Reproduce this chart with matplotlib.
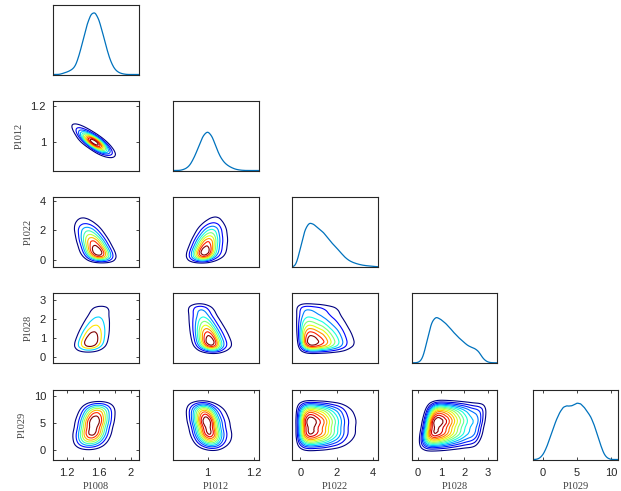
import matplotlib
matplotlib.use("Agg")
import matplotlib.pyplot as plt
import numpy as np

NAMES = ["P1008", "P1012", "P1022", "P1028", "P1029"]

# marginal densities (relative heights at grid points)
P1008_X = [1.15, 1.20, 1.25, 1.30, 1.35, 1.40, 1.45, 1.50, 1.55, 1.60, 1.65, 1.70, 1.75, 1.80, 1.85, 1.90]
P1008_W = [0.02, 0.04, 0.07, 0.12, 0.30, 0.55, 0.80, 0.97, 1.00, 0.88, 0.65, 0.40, 0.20, 0.08, 0.03, 0.01]

P1012_X = [0.90, 0.92, 0.94, 0.96, 0.98, 1.00, 1.02, 1.04, 1.06, 1.08, 1.10, 1.12, 1.14]
P1012_W = [0.03, 0.10, 0.30, 0.58, 0.88, 1.00, 0.86, 0.52, 0.28, 0.15, 0.08, 0.03, 0.01]

P1022_X = [-0.25, 0.0, 0.25, 0.5, 0.75, 1.0, 1.25, 1.5, 1.75, 2.0, 2.25, 2.5, 2.75, 3.0, 3.25, 3.5, 3.75, 4.0]
P1022_W = [0.0, 0.40, 0.85, 1.00, 0.95, 0.85, 0.78, 0.65, 0.52, 0.42, 0.30, 0.19, 0.12, 0.08, 0.05, 0.03, 0.02, 0.01]

P1028_X = [0.2, 0.4, 0.6, 0.8, 1.0, 1.2, 1.4, 1.6, 1.8, 2.0, 2.2, 2.4, 2.6, 2.8, 3.0]
P1028_W = [0.05, 0.45, 0.90, 1.00, 0.93, 0.85, 0.74, 0.62, 0.52, 0.43, 0.35, 0.32, 0.26, 0.08, 0.01]

P1029_X = [-0.5, 0.0, 0.5, 1.0, 1.5, 2.0, 2.5, 3.0, 3.5, 4.0, 4.5, 5.0, 5.5, 6.0, 6.5, 7.0, 7.5, 8.0, 8.5, 9.0, 9.5, 10.0]
P1029_W = [0.02, 0.08, 0.20, 0.37, 0.55, 0.71, 0.84, 0.93, 0.95, 0.94, 0.96, 1.00, 0.99, 0.93, 0.85, 0.76, 0.62, 0.43, 0.24, 0.08, 0.02, 0.0]

CENTERS = [P1008_X, P1012_X, P1022_X, P1028_X, P1029_X]
WEIGHTS = [P1008_W, P1012_W, P1022_W, P1028_W, P1029_W]
BANDWIDTH = [0.03, 0.012, 0.15, 0.12, 0.3]

# pairwise correlation and number of contour lines, keyed (row, col)
RHO = {(1, 0): -0.8, (2, 0): -0.5, (2, 1): 0.35, (3, 0): 0.35, (3, 1): -0.35,
       (3, 2): -0.1, (4, 0): 0.25, (4, 1): -0.25, (4, 2): 0.0, (4, 3): 0.15}
N_LEVELS = {(1, 0): 11, (2, 0): 8, (2, 1): 9, (3, 0): 4, (3, 1): 9,
            (3, 2): 9, (4, 0): 8, (4, 1): 11, (4, 2): 12, (4, 3): 14}

XLIM = [(1.02, 2.10), (0.85, 1.22), (-0.44, 4.25), (-0.25, 3.4), (-1.5, 11.04)]
YLIM = [None, (0.84, 1.23), (-0.47, 4.23), (-0.3, 3.35), (-1.7, 11.05)]
PEAK_FRAC = [0.886, 0.55, 0.625, 0.65, 0.81]

TICKS = [[1.2, 1.4, 1.6, 1.8, 2.0], [1.0, 1.2], [0, 2, 4], [0, 1, 2, 3], [0, 5, 10]]
TICKLABELS = [["1.2", "", "1.6", "", "2"], ["1", "1.2"], ["0", "2", "4"],
              ["0", "1", "2", "3"], ["0", "5", "10"]]


def kde(v, k):
    c = np.asarray(CENTERS[k])
    w = np.asarray(WEIGHTS[k])
    h = BANDWIDTH[k]
    d = (np.asarray(v)[..., None] - c) / h
    return (w * np.exp(-0.5 * d * d)).sum(-1) / (w.sum() * h * np.sqrt(2 * np.pi))


def moments(k):
    c = np.asarray(CENTERS[k])
    w = np.asarray(WEIGHTS[k])
    m = (w * c).sum() / w.sum()
    var = (w * (c - m) ** 2).sum() / w.sum() + BANDWIDTH[k] ** 2
    return m, np.sqrt(var)


def density2d(X, Y, i, j, r):
    # x variable i, y variable j, x sheared on y to give correlation r
    mx, sx = moments(i)
    my, sy = moments(j)
    a = r * sx / sy
    b = np.sqrt(1 - r * r)
    xp = mx + (X - mx - a * (Y - my)) / b
    return kde(xp, i) / b * kde(Y, j)


W, H = 621, 491
fig = plt.figure(figsize=(W / 100, H / 100), dpi=100)
lefts = [53, 173, 292.3, 411.7, 532.7]
tops = [5, 101, 197.3, 293.3, 390]
aw, ah = 85.5, 69.5

plt.rcParams["font.family"] = "Liberation Sans"
edge = "#262626"
line_blue = "#0072BD"

for row in range(5):
    for col in range(row + 1):
        ax = fig.add_axes([lefts[col] / W, 1 - (tops[row] + ah) / H, aw / W, ah / H])
        xs = np.linspace(*XLIM[col], 300)
        if row == col:
            d = kde(xs, col)
            ax.plot(xs, d, color=line_blue, lw=0.9)
            ax.set_ylim(0, d.max() / PEAK_FRAC[col])
        else:
            ys = np.linspace(*YLIM[row], 300)
            Xg, Yg = np.meshgrid(xs, ys)
            Z = density2d(Xg, Yg, col, row, RHO[(row, col)])
            n = N_LEVELS[(row, col)]
            levels = Z.max() * np.arange(1, n + 1) / (n + 1)
            ax.contour(Xg, Yg, Z, levels=levels, cmap="jet",
                       vmin=levels[0], vmax=levels[-1], linewidths=0.8)
            ax.set_ylim(*YLIM[row])
        ax.set_xlim(*XLIM[col])

        for s in ax.spines.values():
            s.set_color(edge)
            s.set_linewidth(0.8)
        ax.tick_params(direction="in", length=2.5, width=0.6, color=edge,
                       labelcolor=edge, labelsize=8, top=True, right=True)
        if row == 4:
            ax.set_xticks(TICKS[col])
            ax.set_xticklabels(TICKLABELS[col])
            ax.tick_params(axis="x", pad=6)
            ax.set_xlabel(NAMES[col], family="Liberation Serif", fontsize=7.5,
                          color="#404040", labelpad=3)
        else:
            ax.set_xticks([])
        if col == 0 and row > 0:
            ax.set_yticks(TICKS[row])
            ax.set_yticklabels(TICKLABELS[row])
            ax.tick_params(axis="y", pad=5)
            ax.set_ylabel(NAMES[row], family="Liberation Serif", fontsize=7.5,
                          color="#404040", labelpad=5)
        else:
            ax.set_yticks([])

fig.savefig("out.png", dpi=100)
